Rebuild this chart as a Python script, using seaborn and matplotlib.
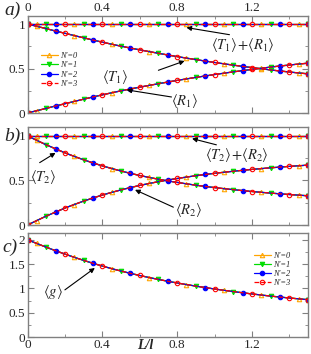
"""
plot.py - transmission / reflection / conductance vs L/l, three stacked panels.
"""
import matplotlib
matplotlib.use("Agg")
import matplotlib.pyplot as plt
from matplotlib.ticker import MultipleLocator
import pandas as pd
import seaborn as sns

# ── Data ──────────────────────────────────────────────────────────────────────
L = [0.00, 0.05, 0.10, 0.15, 0.20, 0.25, 0.30, 0.35, 0.40, 0.45, 0.50,
     0.55, 0.60, 0.65, 0.70, 0.75, 0.80, 0.85, 0.90, 0.95, 1.00,
     1.05, 1.10, 1.15, 1.20, 1.25, 1.30, 1.35, 1.40, 1.45, 1.50]

T1 = [1.000, 0.974, 0.948, 0.921, 0.896, 0.870, 0.845, 0.820, 0.796, 0.773, 0.751,
      0.730, 0.710, 0.690, 0.671, 0.652, 0.634, 0.617, 0.600, 0.584, 0.568,
      0.553, 0.538, 0.524, 0.510, 0.497, 0.484, 0.472, 0.461, 0.450, 0.440]
R1 = [0.000, 0.026, 0.052, 0.079, 0.104, 0.130, 0.155, 0.180, 0.204, 0.227, 0.249,
      0.270, 0.290, 0.310, 0.329, 0.348, 0.366, 0.383, 0.400, 0.416, 0.432,
      0.447, 0.462, 0.476, 0.490, 0.503, 0.516, 0.528, 0.539, 0.550, 0.560]
T2 = [1.000, 0.950, 0.900, 0.855, 0.810, 0.770, 0.732, 0.697, 0.664, 0.634, 0.606,
      0.580, 0.556, 0.534, 0.514, 0.495, 0.478, 0.462, 0.447, 0.433, 0.420,
      0.408, 0.397, 0.386, 0.376, 0.367, 0.358, 0.350, 0.342, 0.335, 0.328]
R2 = [0.000, 0.050, 0.100, 0.145, 0.190, 0.230, 0.268, 0.303, 0.336, 0.366, 0.394,
      0.420, 0.444, 0.466, 0.486, 0.505, 0.522, 0.538, 0.553, 0.567, 0.580,
      0.592, 0.603, 0.614, 0.624, 0.633, 0.642, 0.650, 0.658, 0.665, 0.672]
G = [2.000, 1.924, 1.848, 1.776, 1.706, 1.640, 1.577, 1.517, 1.460, 1.407, 1.357,
     1.310, 1.266, 1.224, 1.185, 1.147, 1.112, 1.079, 1.047, 1.017, 0.988,
     0.961, 0.935, 0.910, 0.886, 0.864, 0.842, 0.822, 0.803, 0.785, 0.768]
TR_SUM = [1.0] * len(L)

N_LABELS = ["N'=0", "N'=1", "N'=2", "N'=3"]
COLORS = ["#ffa500", "#00dd00", "#0000ff", "#ff0000"]
MARKERS = ["^", "v", "o", "o"]
FILLS = ["none", "#00dd00", "#0000ff", "none"]
LSTYLES = ["-", "-", "-", "--"]

GREY = "#808080"

sns.set_style("ticks")
plt.rcParams["font.family"] = ["Liberation Serif", "DejaVu Serif"]
plt.rcParams["mathtext.fontset"] = "stix"

fig = plt.figure(figsize=(3.11, 3.54), dpi=100)
W, H = 311, 354


def add_axes(top, bottom):
    return fig.add_axes([27.5 / W, 1 - bottom / H, 280.5 / W, (bottom - top) / H])


ax_a = add_axes(16, 113)
ax_b = add_axes(127, 225)
ax_c = add_axes(233, 337)


def draw_curves(ax, curves, legend=False):
    for k, (lab, col, mk, fc, ls) in enumerate(zip(N_LABELS, COLORS, MARKERS, FILLS, LSTYLES)):
        idx = [0] + list(range(k + 1, len(L), 4)) + [len(L) - 1]
        for j, y in enumerate(curves):
            df = pd.DataFrame({"L": L, "y": y})
            sns.lineplot(data=df, x="L", y="y", ax=ax, color=col, lw=0.9, ls=ls,
                         marker=mk, markersize=3.2, mfc=fc, mec=col, mew=0.8,
                         markevery=idx, label=lab if (legend and j == 0) else None,
                         legend=False)


def style_axes(ax, ymax, ymajor, top_labels=False, bottom_labels=False):
    ax.set_xlim(0, 1.5)
    ax.set_ylim(0, ymax)
    ax.xaxis.set_major_locator(MultipleLocator(0.4))
    ax.xaxis.set_minor_locator(MultipleLocator(0.2))
    ax.yaxis.set_major_locator(MultipleLocator(ymajor))
    ax.yaxis.set_minor_locator(MultipleLocator(0.25))
    ax.tick_params(which="both", direction="in", top=True, right=True, color=GREY,
                   labelsize=9.5, pad=1.5,
                   labeltop=top_labels, labelbottom=bottom_labels)
    ax.tick_params(which="major", length=4)
    ax.tick_params(which="minor", length=2)
    ax.xaxis.set_major_formatter(plt.FuncFormatter(lambda v, p: f"{v:g}"))
    ax.yaxis.set_major_formatter(plt.FuncFormatter(lambda v, p: f"{v:g}"))
    for s in ax.spines.values():
        s.set_color(GREY)
        s.set_linewidth(1.0)
    ax.set_xlabel("")
    ax.set_ylabel("")


def note(ax, text, xy_text, tail=None, head=None):
    ax.text(*xy_text, text, fontsize=10.5, ha="center", va="center")
    if tail is not None:
        ax.annotate("", xy=head, xytext=tail,
                    arrowprops=dict(arrowstyle="-|>", color="black", lw=0.8,
                                    mutation_scale=7, shrinkA=0, shrinkB=0))


# ── Panel a ───────────────────────────────────────────────────────────────────
draw_curves(ax_a, [TR_SUM, T1, R1], legend=True)
style_axes(ax_a, 1.09, 0.5, top_labels=True)
ax_a.legend(loc="upper left", bbox_to_anchor=(0.03, 0.68), frameon=False,
            prop={"size": 6, "style": "italic"}, handlelength=2.0,
            labelspacing=0.15, borderpad=0.1, handletextpad=0.3)
note(ax_a, r"$\langle T_1\rangle\!+\!\langle R_1\rangle$", (1.15, 0.76),
     (1.08, 0.88), (0.85, 0.96))
note(ax_a, r"$\langle T_1\rangle$", (0.47, 0.40), (0.70, 0.48), (0.84, 0.585))
note(ax_a, r"$\langle R_1\rangle$", (0.84, 0.14), (0.77, 0.18), (0.53, 0.26))

# ── Panel b ───────────────────────────────────────────────────────────────────
draw_curves(ax_b, [TR_SUM, T2, R2])
style_axes(ax_b, 1.1, 0.5)
note(ax_b, r"$\langle T_2\rangle$", (0.085, 0.54), (0.065, 0.70), (0.15, 0.81))
note(ax_b, r"$\langle T_2\rangle\!+\!\langle R_2\rangle$", (1.12, 0.79),
     (1.01, 0.90), (0.88, 0.97))
note(ax_b, r"$\langle R_2\rangle$", (0.86, 0.17), (0.78, 0.20), (0.575, 0.395))

# ── Panel c ───────────────────────────────────────────────────────────────────
draw_curves(ax_c, [G], legend=True)
style_axes(ax_c, 2.14, 0.5, bottom_labels=True)
ax_c.legend(loc="upper left", bbox_to_anchor=(0.79, 0.87), frameon=False,
            prop={"size": 6, "style": "italic"}, handlelength=2.0,
            labelspacing=0.15, borderpad=0.1, handletextpad=0.3)
note(ax_c, r"$\langle g\rangle$", (0.135, 0.93), (0.20, 0.97), (0.36, 1.42))
ax_c.text(0.63, -0.085, "L/l", transform=ax_c.get_xaxis_transform(),
          fontsize=10, fontstyle="italic", fontweight="bold", ha="center", va="center")

# panel letters
for lab, (px, py) in zip(["a)", "b)", "c)"], [(13, 10), (12, 136), (10, 247)]):
    fig.text(px / W, 1 - py / H, lab, fontsize=14, fontstyle="italic",
             ha="center", va="center")

fig.savefig("out.png", dpi=100)
